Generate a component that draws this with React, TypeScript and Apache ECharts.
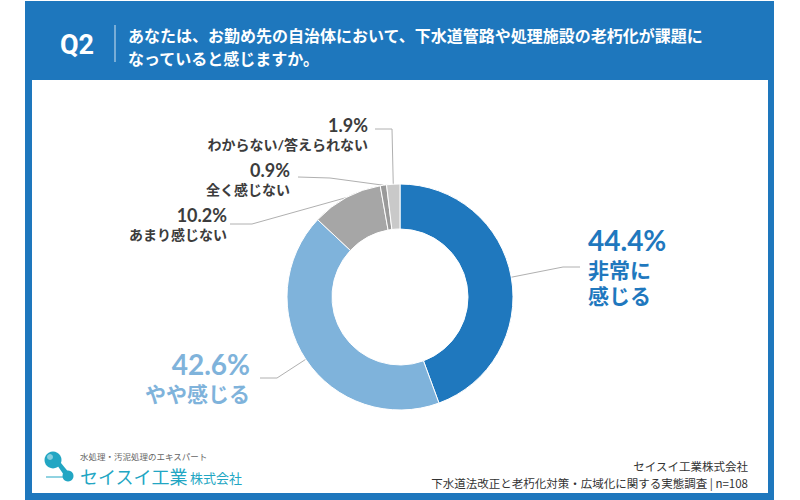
import React, { useEffect, useRef } from "react";
import * as echarts from "echarts";

const categories = ["非常に感じる", "やや感じる", "あまり感じない", "全く感じない", "わからない/答えられない"];
const values = [44.4, 42.6, 10.2, 0.9, 1.9];
const colors = ["#1F78BE", "#7FB3DB", "#A6A6A6", "#9A9A9A", "#C9C9C9"];

const titleLines = [
  "あなたは、お勤め先の自治体において、下水道管路や処理施設の老朽化が課題に",
  "なっていると感じますか。",
];
const questionNo = "Q2";
const footerLines = ["セイスイ工業株式会社", "下水道法改正と老朽化対策・広域化に関する実態調査 | n=108"];
const logoTagline = "水処理・汚泥処理のエキスパート";
const logoName = "セイスイ工業";
const logoSuffix = "株式会社";

const FONT = '"Noto Sans CJK JP", "Noto Sans", sans-serif';
const LFONT = 'Lato, "Noto Sans CJK JP", sans-serif';
const BLUE = "#1E77BD";
const TEAL = "#22A6C3";

// label layout (positions only)
const labelPos = [
  { x: 588, y: 224, align: "left", bend: [563, 267], end: [580, 267], style: "a" },
  { x: 250, y: 348, align: "right", bend: [277, 378], end: [260, 378], style: "b" },
  { x: 227, y: 205, align: "right", bend: [252, 224], end: [230, 224], style: "s" },
  { x: 290, y: 160, align: "right", bend: [330, 178], end: [298, 177], style: "s" },
  { x: 368, y: 115, align: "right", bend: [392, 129], end: [375, 129], style: "s" },
];

export default function App() {
  const ref = useRef<HTMLDivElement>(null);
  useEffect(() => {
    document.body.style.margin = "0";
    const chart = echarts.init(ref.current!, null, { renderer: "svg" });
    const option: any = {
      animation: false,
      backgroundColor: "#ffffff",
      graphic: [
        { type: "rect", shape: { x: 25, y: 1, width: 749, height: 499 }, style: { fill: BLUE } },
        { type: "rect", shape: { x: 32, y: 80, width: 736, height: 413 }, style: { fill: "#ffffff" } },
        {
          type: "text",
          style: { text: questionNo, x: 60, y: 45, fill: "#fff", fontSize: 27, fontWeight: "bold", fontFamily: "Roboto, " + FONT, verticalAlign: "middle" },
        },
        { type: "line", shape: { x1: 115, y1: 25, x2: 115, y2: 62 }, style: { stroke: "rgba(255,255,255,0.8)", lineWidth: 1 } },
        {
          type: "text",
          style: { text: titleLines[0], x: 128, y: 35, fill: "#fff", fontSize: 16, fontWeight: "bold", fontFamily: FONT, verticalAlign: "middle" },
        },
        {
          type: "text",
          style: { text: titleLines[1], x: 128, y: 58, fill: "#fff", fontSize: 16, fontWeight: "bold", fontFamily: FONT, verticalAlign: "middle" },
        },
        {
          type: "text",
          style: { text: footerLines[0], x: 748, y: 466, fill: "#333", fontSize: 11.5, fontFamily: FONT, align: "right", verticalAlign: "middle" },
        },
        {
          type: "text",
          style: { text: footerLines[1], x: 748, y: 483, fill: "#333", fontSize: 11.5, fontFamily: FONT, align: "right", verticalAlign: "middle" },
        },
        // logo
        { type: "line", shape: { x1: 46, y1: 477, x2: 64, y2: 477 }, style: { stroke: TEAL, lineWidth: 1 } },
        { type: "polygon", shape: { points: [[55, 462], [61, 463], [70, 474], [66, 478]] }, style: { fill: TEAL } },
        { type: "circle", shape: { cx: 53, cy: 460, r: 8.5 }, style: { fill: TEAL } },
        { type: "circle", shape: { cx: 68, cy: 476, r: 5.5 }, style: { fill: TEAL } },
        { type: "circle", shape: { cx: 50, cy: 457, r: 3 }, style: { fill: "rgba(255,255,255,0.45)" } },
        {
          type: "text",
          style: { text: logoTagline, x: 80, y: 456, fill: "#666", fontSize: 8.5, fontFamily: FONT, verticalAlign: "middle" },
        },
        {
          type: "text",
          style: { text: logoName, x: 80, y: 476, fill: TEAL, fontSize: 18, fontFamily: FONT, verticalAlign: "middle" },
        },
        {
          type: "text",
          style: { text: logoSuffix, x: 190, y: 477, fill: TEAL, fontSize: 13, fontFamily: FONT, verticalAlign: "middle" },
        },
      ],
      series: [
        {
          type: "pie",
          center: [400, 297],
          radius: [68, 113],
          startAngle: 90,
          clockwise: true,
          avoidLabelOverlap: false,
          itemStyle: { borderColor: "#ffffff", borderWidth: 1 },
          label: {
            show: true,
            position: "outside",
            fontFamily: LFONT,
            formatter: (p: any) => {
              const st = labelPos[p.dataIndex].style;
              const nm = p.dataIndex === 0 ? "非常に\n感じる" : p.name;
              return `{p${st}|${p.value}%}\n{n${st}|${nm}}`;
            },
            rich: {
              pa: { fontSize: 28, fontWeight: "bold", color: colors[0], lineHeight: 32, fontFamily: LFONT },
              na: { fontSize: 21, fontWeight: "bold", color: colors[0], lineHeight: 26, fontFamily: LFONT },
              pb: { fontSize: 28, fontWeight: "bold", color: colors[1], lineHeight: 32, fontFamily: LFONT },
              nb: { fontSize: 21, fontWeight: "bold", color: colors[1], lineHeight: 26, fontFamily: LFONT },
              ps: { fontSize: 18, fontWeight: "bold", color: "#3C3C3C", lineHeight: 20, fontFamily: LFONT },
              ns: { fontSize: 14, fontWeight: "bold", color: "#3C3C3C", lineHeight: 18, fontFamily: LFONT },
            },
          },
          labelLine: { show: true, lineStyle: { color: "#B0B0B0", width: 1 } },
          labelLayout: (params: any) => {
            const lp = labelPos[params.dataIndex];
            const start = params.labelLinePoints ? params.labelLinePoints[0] : lp.bend;
            return {
              x: lp.x,
              y: lp.y,
              align: lp.align,
              verticalAlign: "top",
              labelLinePoints: [start, lp.bend, lp.end],
            };
          },
          data: categories.map((c, i) => ({ name: c, value: values[i], itemStyle: { color: colors[i] } })),
        },
      ],
    };
    chart.setOption(option);
    return () => chart.dispose();
  }, []);
  return <div ref={ref} style={{ position: "absolute", left: 0, top: 0, width: 800, height: 500 }} />;
}
